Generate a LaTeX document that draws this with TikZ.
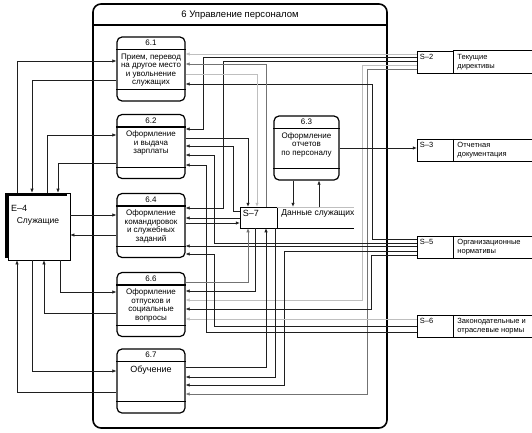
\documentclass[tikz,border=0pt]{standalone}
\usepackage{fontspec}
\setmainfont{Liberation Sans}
\usetikzlibrary{arrows.meta}

\definecolor{dark}{rgb}{.12,.12,.12}
\definecolor{mid}{rgb}{.45,.45,.45}
\definecolor{light}{rgb}{.75,.75,.75}

\begin{document}
\begin{tikzpicture}[x=1pt, y=-1pt,
	proc/.style = {draw, line width=1.2pt, rounded corners=5pt, minimum width=68pt, minimum height=64pt, inner sep=0pt},
	ptext/.style = {font=\fontsize{8}{8.5}\selectfont, align=center, inner sep=0pt, anchor=north},
	pid/.style = {font=\fontsize{8}{9}\selectfont, inner sep=0pt},
	store/.style = {draw, line width=.5pt, minimum width=36pt, minimum height=22pt, inner sep=0pt},
	stext/.style = {font=\fontsize{7.5}{8.8}\selectfont, align=left, inner sep=0pt, anchor=west},
	flow/.style = {dark, line width=.6pt, -{Latex[length=4pt,width=3.4pt]}},
	flowg/.style = {mid, line width=.6pt, -{Latex[length=4pt,width=3.4pt]}},
	flowl/.style = {light, line width=.6pt, -{Latex[length=4pt,width=3.4pt]}}]

	\useasboundingbox (0,0) rectangle (532,433);

	% frame
	\draw[line width=1.6pt, rounded corners=8pt] (93,4) rectangle (387,428);
	\draw[line width=1.2pt] (93,25) -- (387,25);
	\node[font=\fontsize{9.5}{10}\selectfont] (title) at (240,15) {6 Управление персоналом};

	% processes
	\node[proc] (p61) at (151,69) {};
	\node[proc] (p62) at (151,146.5) {};
	\node[proc] (p64) at (151,225.5) {};
	\node[proc] (p66) at (151,304.5) {};
	\node[proc] (p67) at (151,381) {};
	\node[proc, minimum width=65pt] (p63) at (306.5,148) {};
	\foreach \p in {p61,p62,p63,p64,p66,p67} {
		\draw[line width=1.2pt] ([yshift=-13pt]\p.north west) -- ([yshift=-13pt]\p.north east);
		\draw[line width=1.2pt] ([yshift=12pt]\p.south west) -- ([yshift=12pt]\p.south east);
	}
	\node[pid] at ([yshift=-6.5pt]p61.north) {6.1};
	\node[pid] at ([yshift=-6.5pt]p62.north) {6.2};
	\node[pid] at ([yshift=-6.5pt]p63.north) {6.3};
	\node[pid] at ([yshift=-6.5pt]p64.north) {6.4};
	\node[pid] at ([yshift=-6.5pt]p66.north) {6.6};
	\node[pid] at ([yshift=-6.5pt]p67.north) {6.7};
	\node[ptext] at ([yshift=-17pt]p61.north) {Прием, перевод\\на другое место\\и увольнение\\служащих};
	\node[ptext] at ([yshift=-17pt]p62.north) {Оформление\\и выдача\\зарплаты};
	\node[ptext] at ([yshift=-17pt]p63.north) {Оформление\\отчетов\\по персоналу};
	\node[ptext] at ([yshift=-17pt]p64.north) {Оформление\\командировок\\и служебных\\заданий};
	\node[ptext] at ([yshift=-17pt]p66.north) {Оформление\\отпусков и\\социальные\\вопросы};
	\node[ptext, font=\fontsize{9}{10}\selectfont] at ([yshift=-17pt]p67.north) {Обучение};

	% external entity
	\node[draw, line width=.6pt, minimum width=62pt, minimum height=67pt, inner sep=0pt] (e4) at (39,226.5) {};
	\draw[line width=3pt] (6.5,258) |- (67,194.5);
	\node[stext, font=\fontsize{9}{10}\selectfont] at (11,208) {Е–4};
	\node[pid, font=\fontsize{8.5}{10}\selectfont] at (38,221) {Служащие};

	% stores
	\node[store] (s2) at (435,62) {};
	\node[store] (s3) at (435,150) {};
	\node[store] (s5) at (435,247) {};
	\node[store] (s6) at (435,326) {};
	\foreach \s in {s2,s3,s5,s6} {
		\draw[line width=1.5pt] (\s.north east) -- (\s.south east);
		\draw[line width=1.3pt] (\s.south west) -- (532,0 |- \s.south);
		\draw[line width=.5pt] (\s.north east) -- (532,0 |- \s.north);
	}
	\node[stext] at ([xshift=3pt,yshift=-6pt]s2.north west) {S–2};
	\node[stext] at ([xshift=3pt,yshift=-6pt]s3.north west) {S–3};
	\node[stext] at ([xshift=3pt,yshift=-6pt]s5.north west) {S–5};
	\node[stext] at ([xshift=3pt,yshift=-6pt]s6.north west) {S–6};
	\node[stext] at ([xshift=4pt]s2.east) {Текущие\\директивы};
	\node[stext] at ([xshift=4pt]s3.east) {Отчетная\\документация};
	\node[stext] at ([xshift=4pt]s5.east) {Организационные\\нормативы};
	\node[stext] at ([xshift=4pt]s6.east) {Законодательные и\\отраслевые нормы};

	\node[draw, line width=.5pt, minimum width=37pt, minimum height=21pt, inner sep=0pt] (s7) at (258.5,217.5) {};
	\draw[line width=1.5pt] (s7.north east) -- (s7.south east);
	\draw[line width=1.3pt] (s7.south west) -- (354,0 |- s7.south);
	\draw[light, line width=.5pt] (s7.north east) -- (354,0 |- s7.north);
	\node[stext, font=\fontsize{9}{10}\selectfont] at ([xshift=3pt,yshift=-7pt]s7.north west) {S–7};
	\node[stext, font=\fontsize{8.5}{10}\selectfont] at ([xshift=4pt,yshift=-6.5pt]s7.north east) {Данные служащих};

	% employee flows
	\draw[flow] (17,0 |- e4.north) |- (p61.west |- 0,61);
	\draw[flow] (p61.west |- 0,80) -| (32,0 |- e4.north);
	\draw[flow] (47,0 |- e4.north) |- (p62.west |- 0,135);
	\draw[flow] (p62.west |- 0,163) -| (58,0 |- e4.north);
	\draw[flow] (e4.east |- 0,215) -- (p64.west |- 0,215);
	\draw[flow] (p64.west |- 0,235) -- (e4.east |- 0,235);
	\draw[flow] (60,0 |- e4.south) |- (p66.west |- 0,292);
	\draw[flow] (p66.west |- 0,313) -| (44,0 |- e4.south);
	\draw[flow] (32,0 |- e4.south) |- (p67.west |- 0,371);
	\draw[flow] (p67.west |- 0,392) -| (17,0 |- e4.south);

	% S-2
	\draw[flowl] (s2.west |- 0,54) -- (p61.east |- 0,54);
	\draw[flow] (s2.west |- 0,57) -| (203,129) -- (p62.east |- 0,129);
	\draw[flow] (s2.west |- 0,61) -| (223,208) -- (p64.east |- 0,208);
	\draw[flowl] (s2.west |- 0,65) -| (362,300) -- (p66.east |- 0,300);
	\draw[flowg] (s2.west |- 0,69) -| (367,394) -- (p67.east |- 0,394);

	% S-5
	\draw[flow] (s5.west |- 0,239) -| (372,84) -- (p61.east |- 0,84);
	\draw[flow] (s5.west |- 0,243) -| (214,155) -- (p62.east |- 0,155);
	\draw[flow] (s5.west |- 0,246) -- (p64.east |- 0,246);
	\draw[flow] (s5.west |- 0,251) -| (284,385) -- (p67.east |- 0,385);
	\draw[flow] (s5.west |- 0,255) -| (371,309) -- (p66.east |- 0,309);

	% S-6
	\draw[flowl] (s6.west |- 0,319) -- (p66.east |- 0,319);
	\draw[flow] (s6.west |- 0,326) -| (214,254) -- (p64.east |- 0,254);
	\draw[flow] (s6.west |- 0,332) -| (206,165) -- (p62.east |- 0,165);

	% S-7
	\draw[flowg] (266,0 |- s7.north) |- (p61.east |- 0,64);
	\draw[flowl] (p61.east |- 0,74) -| (257,0 |- s7.north);
	\draw[flow] (p62.east |- 0,138) -| (248,0 |- s7.north);
	\draw[flow] (s7.west |- 0,211) -| (233,146) -- (p62.east |- 0,146);
	\draw[flow] (s7.west |- 0,218) -- (p64.east |- 0,218);
	\draw[flow] (p64.east |- 0,223) -- (s7.west |- 0,223);
	\draw[flowg] (p66.east |- 0,282) -| (248,0 |- s7.south);
	\draw[flow] (255,0 |- s7.south) |- (p66.east |- 0,291);
	\draw[flow] (p67.east |- 0,367) -| (266,0 |- s7.south);
	\draw[flow] (275,0 |- s7.south) |- (p67.east |- 0,377);
	\draw[flow] (p63.south -| 293,0) -- (293,0 |- s7.north);
	\draw[flow] (319,0 |- s7.north) -- (p63.south -| 319,0);

	% reports
	\draw[flow] (p63.east |- 0,148) -- (s3.west |- 0,148);
\end{tikzpicture}
\end{document}
